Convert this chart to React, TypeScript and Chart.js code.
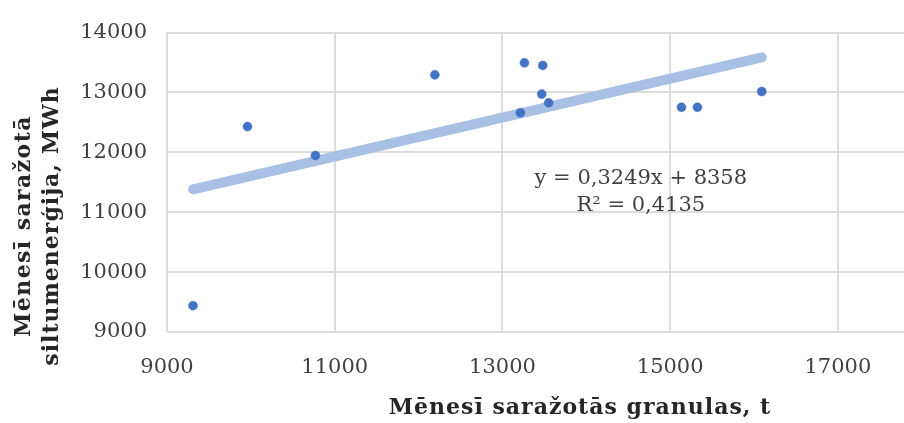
import React, { useEffect, useRef } from 'react';
import { Chart, registerables } from 'chart.js';

Chart.register(...registerables);

// ---- data ----
const GRANULES_T = [9310, 9960, 10770, 12194, 13262, 13480, 13468, 13551, 13214, 15135, 15325, 16092];
const HEAT_MWH = [9440, 12430, 11947, 13295, 13495, 13452, 12973, 12827, 12661, 12753, 12753, 13016];
const TREND_SLOPE = 0.3249;
const TREND_INTERCEPT = 8358;
const TREND_X = [9310, 16092];
const EQUATION_LINES = ['y = 0,3249x + 8358', 'R² = 0,4135'];
const X_TITLE = 'Mēnesī saražotās granulas, t';
const Y_TITLE_LINES = ['Mēnesī saražotā', 'siltumenerģija, MWh'];
const X_TICKS = [9000, 11000, 13000, 15000, 17000];
const Y_TICKS = [9000, 10000, 11000, 12000, 13000, 14000];
const X_MIN = 9000;
const X_MAX = 17800;
const Y_MIN = 9000;
const Y_MAX = 14000;

const SERIF = "'DejaVu Serif', 'Liberation Serif', serif";
const TEXT = '#404040';
const GRID = '#dcdcdc';

const textPlugin = {
  id: 'textPlugin',
  afterDatasetsDraw(chart: any) {
    const { ctx, scales } = chart;
    const x = scales.x;
    const y = scales.y;
    ctx.save();
    ctx.fillStyle = TEXT;
    ctx.font = `21px ${SERIF}`;
    ctx.textAlign = 'center';
    ctx.textBaseline = 'middle';
    const ex = x.getPixelForValue(14650);
    const ey = y.getPixelForValue(11560);
    EQUATION_LINES.forEach((l, i) => ctx.fillText(l, ex, ey + i * 27));
    ctx.restore();
  },
  afterDraw(chart: any) {
    const { ctx } = chart;
    ctx.save();
    ctx.fillStyle = '#262626';
    ctx.font = `bold 22px ${SERIF}`;
    (ctx as any).letterSpacing = '1px';
    ctx.textAlign = 'center';
    ctx.textBaseline = 'middle';
    ctx.fillText(X_TITLE, 580, 408);
    ctx.translate(0, 226);
    ctx.rotate(-Math.PI / 2);
    (ctx as any).letterSpacing = '1.4px';
    ctx.fillText(Y_TITLE_LINES[0], 0, 24);
    (ctx as any).letterSpacing = '1px';
    ctx.fillText(Y_TITLE_LINES[1], 0, 52);
    ctx.restore();
  },
};

export default function App() {
  const ref = useRef<HTMLCanvasElement>(null);
  useEffect(() => {
    document.body.style.margin = '0';
    const scatter = GRANULES_T.map((v, i) => ({ x: v, y: HEAT_MWH[i] }));
    const trend = TREND_X.map((v) => ({ x: v, y: TREND_SLOPE * v + TREND_INTERCEPT }));
    const tickFont = { family: SERIF, size: 21 };
    const chart = new Chart(ref.current!, {
      type: 'scatter',
      data: {
        datasets: [
          {
            data: scatter,
            pointRadius: 4.5,
            pointBackgroundColor: '#4472C4',
            pointBorderColor: '#4472C4',
            pointBorderWidth: 0.5,
          } as any,
          {
            data: trend,
            showLine: true,
            borderColor: '#a9c0e5',
            borderWidth: 10,
            borderCapStyle: 'round',
            pointRadius: 0,
          } as any,
        ],
      },
      options: {
        animation: false,
        responsive: true,
        maintainAspectRatio: false,
        layout: { padding: { top: 22, left: 0, right: 0, bottom: 0 } },
        plugins: { legend: { display: false }, tooltip: { enabled: false } },
        scales: {
          x: {
            type: 'linear',
            min: X_MIN,
            max: X_MAX,
            ticks: { padding: 23, font: tickFont, color: TEXT, maxRotation: 0, callback: (v: any) => String(v) } as any,
            afterBuildTicks: (s: any) => { s.ticks = X_TICKS.map((v) => ({ value: v })); },
            grid: { color: GRID, lineWidth: 2, drawTicks: false },
            border: { display: false },
            afterFit: (s: any) => { s.height = 91; },
          },
          y: {
            type: 'linear',
            min: Y_MIN,
            max: Y_MAX,
            ticks: { padding: 20, font: tickFont, color: TEXT, callback: (v: any) => String(v) },
            afterBuildTicks: (s: any) => { s.ticks = Y_TICKS.map((v) => ({ value: v })); },
            grid: { color: GRID, lineWidth: 2, drawTicks: false },
            border: { display: false },
            afterFit: (s: any) => { s.width = 167; },
          },
        },
      },
      plugins: [textPlugin],
    });
    return () => chart.destroy();
  }, []);
  return (
    <div style={{ position: 'absolute', left: 0, top: 0, width: 910, height: 423 }}>
      <canvas ref={ref} />
    </div>
  );
}
